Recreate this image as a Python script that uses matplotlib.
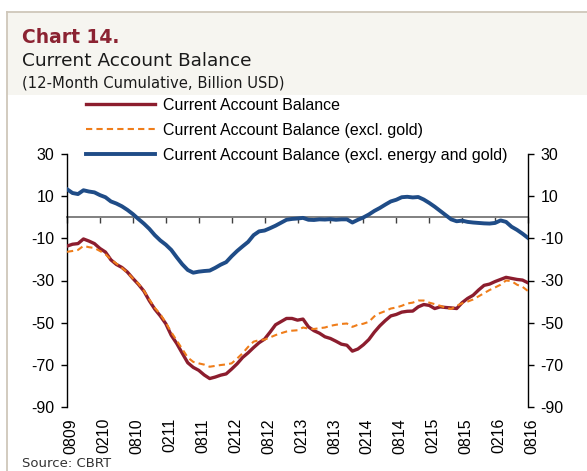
import matplotlib
matplotlib.use("Agg")
import matplotlib.pyplot as plt
import matplotlib.transforms as mtransforms
from matplotlib.lines import Line2D
from matplotlib.patches import Rectangle
import numpy as np

plt.rcParams['font.family'] = ['Liberation Sans', 'DejaVu Sans']
plt.rcParams['axes.unicode_minus'] = False

# 12-month cumulative, billion USD, monthly 2009-08 .. 2016-08
cab = [-13.7, -12.8, -12.5, -10.3, -11.3, -12.5, -14.8, -16.5, -20.2, -22.4,
       -23.8, -26.0, -29.0, -31.8, -35.0, -39.6, -43.6, -46.8, -50.5, -56.0,
       -59.9, -64.5, -69.0, -71.2, -72.6, -74.8, -76.5, -75.8, -74.9, -74.3,
       -72.0, -69.5, -66.5, -64.3, -61.8, -59.5, -57.8, -54.5, -51.0, -49.5,
       -48.0, -48.0, -48.8, -48.3, -52.0, -53.8, -55.0, -56.7, -57.5, -58.8,
       -60.2, -60.7, -63.5, -62.5, -60.5, -58.0, -54.5, -51.5, -49.0, -46.8,
       -46.1, -45.0, -44.6, -44.5, -42.5, -41.4, -41.8, -43.3, -42.5, -42.8,
       -43.0, -43.3, -40.5, -38.5, -37.0, -34.5, -32.3, -31.7, -30.5, -29.5,
       -28.5, -29.0, -29.5, -29.8, -31.1]
cab_ex_gold = [-16.4, -16.0, -15.5, -13.6, -14.2, -14.6, -16.0, -17.5, -20.0, -22.0,
               -24.0, -26.2, -29.0, -31.5, -34.8, -39.0, -43.0, -46.0, -50.0, -54.5,
               -58.5, -62.5, -66.5, -68.6, -69.3, -69.9, -70.9, -70.5, -70.1, -69.8,
               -69.3, -67.0, -64.5, -61.5, -59.0, -58.3, -58.0, -57.0, -55.9, -55.0,
               -54.2, -53.8, -53.6, -52.3, -52.8, -53.0, -52.6, -52.3, -51.5, -51.0,
               -50.6, -50.4, -52.0, -51.0, -50.5, -49.6, -47.0, -45.5, -44.5, -43.3,
               -42.8, -42.0, -40.9, -40.5, -39.5, -39.5, -40.5, -41.2, -42.0, -43.0,
               -43.5, -42.0, -40.8, -40.0, -39.0, -37.5, -36.0, -34.5, -33.3, -32.0,
               -30.0, -30.3, -32.0, -33.0, -35.0]
cab_ex_energy_gold = [13.3, 11.5, 11.0, 12.8, 12.2, 11.8, 10.5, 9.5, 7.5, 6.5,
                      5.2, 3.5, 1.5, -0.8, -3.0, -5.5, -8.5, -11.0, -13.0, -15.5,
                      -19.0, -22.3, -25.0, -26.3, -25.8, -25.5, -25.3, -24.0, -22.5, -21.3,
                      -18.5, -16.0, -13.8, -11.7, -8.5, -6.7, -6.3, -5.2, -4.0, -2.6,
                      -1.2, -0.8, -0.6, -0.3, -1.2, -1.3, -1.0, -1.1, -0.9, -1.2,
                      -1.0, -1.0, -2.5, -1.2, -0.1, 1.3, 3.0, 4.4, 6.0, 7.5,
                      8.3, 9.5, 9.7, 9.4, 9.6, 8.4, 6.8, 5.0, 3.0, 1.0,
                      -1.0, -1.9, -1.6, -2.2, -2.5, -2.7, -2.9, -3.0, -2.7, -1.5,
                      -2.2, -4.5, -6.0, -7.8, -9.8]

tick_labels = ['0809', '0210', '0810', '0211', '0811', '0212', '0812', '0213',
               '0813', '0214', '0814', '0215', '0815', '0216', '0816']
yticks = [30, 10, -10, -30, -50, -70, -90]

red = '#8C1D2E'
orange = '#EF7D1A'
blue = '#1F4C87'

fig = plt.figure(figsize=(5.87, 4.71), dpi=100)
fig.patch.set_facecolor('white')

# header panel and frame
fig.patches.append(Rectangle((7 / 587, 1 - 95 / 471), 1, 83 / 471, transform=fig.transFigure,
                             facecolor='#F6F5F0', edgecolor='none', zorder=0))
fig.add_artist(Line2D([7 / 587, 1], [1 - 12 / 471, 1 - 12 / 471], color='#CFC7BA', lw=1.3))
fig.add_artist(Line2D([7 / 587, 7 / 587], [0, 1 - 12 / 471], color='#CFC7BA', lw=1.3))

fig.text(22 / 587, 1 - 43 / 471, 'Chart 14.', color='#8B2332', fontsize=13.5,
         fontweight='bold', family='DejaVu Sans')
fig.text(22 / 587, 1 - 66 / 471, 'Current Account Balance', color='#1a1a1a',
         fontsize=13.3, family='DejaVu Sans')
fig.text(22 / 587, 1 - 88 / 471, '(12-Month Cumulative, Billion USD)', color='#1a1a1a',
         fontsize=10.6, family='DejaVu Sans')
fig.text(22 / 587, 1 - 457 / 471, 'Source: CBRT', color='#333333', fontsize=9.5,
         family='DejaVu Sans', va='top')

ax = fig.add_axes([67 / 587, 1 - 407 / 471, 461 / 587, 253 / 471])
x = np.arange(len(cab))

ax.plot(x, cab, color=red, lw=2.4, zorder=3)
ax.plot(x, cab_ex_gold, color=orange, lw=1.5, ls=(0, (3, 2)), zorder=4)
ax.plot(x, cab_ex_energy_gold, color=blue, lw=2.8, zorder=3)

ax.set_xlim(0, 84)
ax.set_ylim(-90, 30)
ax.set_yticks(yticks)
ax.tick_params(axis='y', labelsize=11.5, length=4, width=1, pad=5, right=True,
               labelright=True, direction='out')
ax.spines['top'].set_visible(False)
ax.spines['left'].set_linewidth(1)
ax.spines['right'].set_linewidth(1)
ax.spines['bottom'].set_position(('data', 0))
ax.spines['bottom'].set_color('#808080')
ax.spines['bottom'].set_linewidth(1.4)
ax.spines['bottom'].set_zorder(2)

xt = np.arange(0, 85, 6)
ax.set_xticks(xt)
ax.tick_params(axis='x', length=4, width=1, color='#404040', labelbottom=False)

sec = ax.secondary_xaxis(0.0)
sec.set_xticks(xt)
sec.set_xticklabels(tick_labels, rotation=90)
sec.tick_params(length=0, pad=8, labelsize=11.5)
sec.spines['bottom'].set_visible(False)
offset = mtransforms.ScaledTranslation(4 / 100, 0, fig.dpi_scale_trans)
for lab in sec.get_xticklabels():
    lab.set_transform(lab.get_transform() + offset)

handles = [Line2D([], [], color=red, lw=2.4),
           Line2D([], [], color=orange, lw=1.5, ls=(0, (3, 2))),
           Line2D([], [], color=blue, lw=2.8)]
labels = ['Current Account Balance',
          'Current Account Balance (excl. gold)',
          'Current Account Balance (excl. energy and gold)']
fig.legend(handles, labels, loc='upper left', bbox_to_anchor=(86 / 587, 1 - 98 / 471),
           frameon=False, fontsize=11.5, handlelength=4.3, handletextpad=0.5,
           labelspacing=0.62, borderpad=0, borderaxespad=0)

fig.savefig('out.png', dpi=100)
